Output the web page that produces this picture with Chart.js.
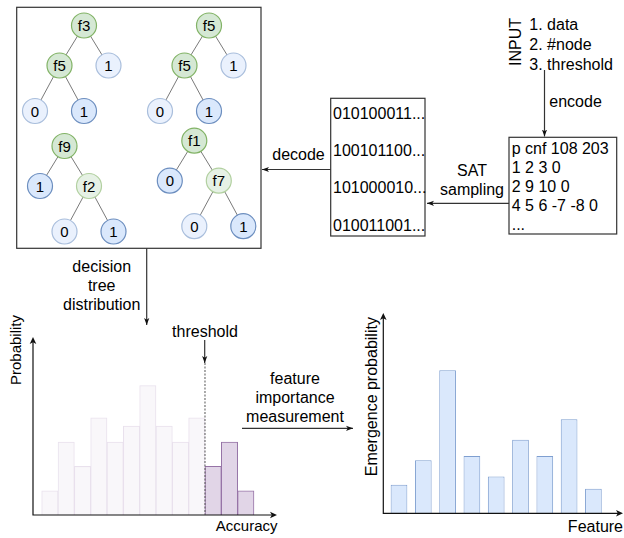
<!DOCTYPE html>
<html>
<head>
<meta charset="utf-8">
<title>Decision tree sampling pipeline</title>
<script src="https://cdn.jsdelivr.net/npm/chart.js@4.4.1/dist/chart.umd.min.js"></script>
<style>
    html, body { margin: 0; padding: 0; background: #fff; }
    #page { position: relative; width: 624px; height: 538px; overflow: hidden; }
    #diagram { position: absolute; left: 0; top: 0; }
    #acc-chart { position: absolute; left: 28px; top: 332px; }
    #feat-chart { position: absolute; left: 378px; top: 308px; }
</style>
</head>
<body>
<div id="page">
    <svg id="diagram" width="624" height="538"></svg>
    <canvas id="acc-chart" width="254" height="188"></canvas>
    <canvas id="feat-chart" width="246" height="210"></canvas>
</div>
<script>
// accuracy histogram of sampled trees, bins from threshold on are highlighted
const accuracyBins = [3, 9, 6, 12, 9, 11, 16, 11, 9, 12, 6, 9, 3];
const thresholdBin = 10;
// emergence probability per feature
const featureProb = [7, 13, 35, 14, 9, 18, 14, 23, 6];

// decision trees drawn from the sampler (tone: g / g2 = split, b / b2 = leaf)
const sampledTrees = [
    { label: 'f3', tone: 'g', kids: [
        { label: 'f5', tone: 'g', kids: [{ label: '0', tone: 'b2' }, { label: '1', tone: 'b' }] },
        { label: '1', tone: 'b2' }] },
    { label: 'f5', tone: 'g', kids: [
        { label: 'f5', tone: 'g', kids: [{ label: '0', tone: 'b2' }, { label: '1', tone: 'b' }] },
        { label: '1', tone: 'b2' }] },
    { label: 'f9', tone: 'g', kids: [
        { label: '1', tone: 'b' },
        { label: 'f2', tone: 'g2', kids: [{ label: '0', tone: 'b2' }, { label: '1', tone: 'b' }] }] },
    { label: 'f1', tone: 'g', kids: [
        { label: '0', tone: 'b' },
        { label: 'f7', tone: 'g2', kids: [{ label: '0', tone: 'b2' }, { label: '1', tone: 'b' }] }] }
];
const bitStrings = ['010100011...', '100101100...', '101000010...', '010011001...'];
const cnfLines = ['p cnf 108 203', '1 2 3 0', '2 9 10 0', '4 5 6 -7 -8 0', '...'];
const inputItems = ['1. data', '2. #node', '3. threshold'];

const FONT = '"Liberation Sans", Arial, Helvetica, sans-serif';
const NS = 'http://www.w3.org/2000/svg';
const svg = document.getElementById('diagram');

const TONES = {
    g:  { fill: '#d5e8d4', stroke: '#82b366' },
    g2: { fill: '#e6f1e5', stroke: '#b2d0a0' },
    b:  { fill: '#dae8fc', stroke: '#6c8ebf' },
    b2: { fill: '#eaf1fd', stroke: '#a9bedc' }
};

function el(tag, attrs, parent = svg) {
    const node = document.createElementNS(NS, tag);
    Object.keys(attrs).forEach(k => node.setAttribute(k, attrs[k]));
    parent.appendChild(node);
    return node;
}

function label(x, y, str, opts = {}) {
    const t = el('text', {
        x: 0, y: 0,
        transform: `translate(${x},${y})` + (opts.rotate ? ` rotate(${opts.rotate})` : ''),
        'text-anchor': opts.anchor || 'start',
        'dominant-baseline': 'central',
        'font-family': FONT,
        'font-size': opts.size || 16,
        fill: '#000'
    });
    t.textContent = str;
    return t;
}

function arrow(x1, y1, x2, y2) {
    el('line', { x1, y1, x2, y2, stroke: '#333', 'stroke-width': 1.2, 'marker-end': 'url(#tip)' });
}

function box(x, y, w, h) {
    el('rect', { x, y, width: w, height: h, fill: 'none', stroke: '#333', 'stroke-width': 1.2 });
}

function drawTree(node, x, y, depth, layer) {
    const r = 12.5;
    const dy = depth === 0 ? 40 : 45.5;
    (node.kids || []).forEach((kid, i) => {
        const kx = x + (i === 0 ? -24.5 : 24.5);
        el('line', { x1: x, y1: y, x2: kx, y2: y + dy, stroke: '#7a7a7a', 'stroke-width': 1 }, layer.edges);
        drawTree(kid, kx, y + dy, depth + 1, layer);
    });
    const tone = TONES[node.tone];
    el('circle', { cx: x, cy: y, r, fill: tone.fill, stroke: tone.stroke, 'stroke-width': 1.2 }, layer.nodes);
    const t = el('text', {
        x, y, 'text-anchor': 'middle', 'dominant-baseline': 'central',
        'font-family': FONT, 'font-size': 15, fill: '#000'
    }, layer.nodes);
    t.textContent = node.label;
}

function buildDiagram() {
    const defs = el('defs', {});
    const marker = el('marker', {
        id: 'tip', viewBox: '0 0 10 10', refX: 10, refY: 5,
        markerWidth: 7, markerHeight: 7, markerUnits: 'userSpaceOnUse', orient: 'auto'
    }, defs);
    el('path', { d: 'M0,1.3 L10,5 L0,8.7 L2.6,5 Z', fill: '#111' }, marker);

    // tree panel
    box(16.7, 7.3, 244.3, 241);
    const layer = { edges: el('g', {}), nodes: el('g', {}) };
    const roots = [[84, 25.5], [209, 25.5], [64.5, 146], [194.3, 140.7]];
    sampledTrees.forEach((tree, i) => drawTree(tree, roots[i][0], roots[i][1], 0, layer));

    // input + encoding
    label(515, 42, 'INPUT', { rotate: -90, anchor: 'middle' });
    inputItems.forEach((s, i) => label(529.3, 24 + i * 20.2, s));
    arrow(544.5, 70, 544.5, 136.5);
    label(549.3, 101.7, 'encode');

    box(509, 137.3, 107.7, 96.7);
    cnfLines.forEach((s, i) => label(511.7, 148.3 + i * 19, s));

    // sampling
    arrow(509, 203.3, 427, 203.3);
    label(472, 170, 'SAT', { anchor: 'middle' });
    label(472, 189, 'sampling', { anchor: 'middle' });

    box(330.7, 98.3, 94.3, 137.7);
    bitStrings.forEach((s, i) => label(333, 113.3 + i * 37.3, s));

    arrow(330.7, 169.5, 262, 169.5);
    label(298.5, 154, 'decode', { anchor: 'middle' });

    // distribution over trees
    arrow(146.7, 248.3, 146.7, 325);
    ['decision', 'tree', 'distribution'].forEach((s, i) => label(101.7, 266 + i * 19, s, { anchor: 'middle' }));
    label(205, 331, 'threshold', { anchor: 'middle' });
    arrow(204.7, 340, 204.7, 363);
    label(15, 350, 'Probability', { rotate: -90, anchor: 'middle', size: 15 });
    label(246.7, 525, 'Accuracy', { anchor: 'middle', size: 15 });

    // feature importance
    ['feature', 'importance', 'measurement'].forEach((s, i) => label(295, 378 + i * 19, s, { anchor: 'middle' }));
    arrow(242, 428.3, 353, 428.3);
    label(371.7, 396.7, 'Emergence probability', { rotate: -90, anchor: 'middle' });
    label(623, 526.7, 'Feature', { anchor: 'end' });
}

function drawHead(ctx, x, y, angle) {
    ctx.save();
    ctx.translate(x, y);
    ctx.rotate(angle);
    ctx.beginPath();
    ctx.moveTo(0, 0);
    ctx.lineTo(-7, -3.3);
    ctx.lineTo(-5.2, 0);
    ctx.lineTo(-7, 3.3);
    ctx.closePath();
    ctx.fill();
    ctx.restore();
}

// x/y axis lines with arrow tips, plus the optional dashed threshold marker
const axisArrows = {
    id: 'axisArrows',
    afterDatasetsDraw(chart, args, opts) {
        const { ctx, chartArea: a } = chart;
        ctx.save();
        ctx.strokeStyle = '#111';
        ctx.fillStyle = '#111';
        ctx.lineWidth = 1.2;
        ctx.beginPath();
        ctx.moveTo(a.left, a.top + 3);
        ctx.lineTo(a.left, a.bottom);
        ctx.lineTo(a.right - 3, a.bottom);
        ctx.stroke();
        drawHead(ctx, a.left, a.top, -Math.PI / 2);
        drawHead(ctx, a.right, a.bottom, 0);

        if (opts.threshold !== undefined) {
            const tx = chart.scales.x.getPixelForValue(opts.threshold);
            ctx.strokeStyle = '#555';
            ctx.lineWidth = 1;
            ctx.setLineDash([2, 1.5]);
            ctx.beginPath();
            ctx.moveTo(tx, a.top + 26);
            ctx.lineTo(tx, a.bottom);
            ctx.stroke();
        }
        ctx.restore();
    }
};

function barChart(id, values, colors, opts) {
    return new Chart(document.getElementById(id), {
        type: 'bar',
        data: {
            datasets: [{
                data: values.map((v, i) => ({ x: i, y: v })),
                backgroundColor: colors.fill,
                borderColor: colors.stroke,
                borderWidth: 1,
                barPercentage: opts.barPct,
                categoryPercentage: 1
            }]
        },
        options: {
            responsive: false,
            animation: false,
            events: [],
            layout: { padding: opts.padding },
            plugins: {
                legend: { display: false },
                tooltip: { enabled: false },
                axisArrows: { threshold: opts.threshold }
            },
            scales: {
                x: { type: 'linear', min: opts.xRange[0], max: opts.xRange[1], offset: false, display: false },
                y: { min: 0, max: opts.yMax, display: false }
            }
        },
        plugins: [axisArrows]
    });
}

document.addEventListener('DOMContentLoaded', () => {
    buildDiagram();

    barChart('acc-chart', accuracyBins, {
        fill: accuracyBins.map((v, i) => i >= thresholdBin ? '#e1d5e7' : '#f9f7fa'),
        stroke: accuracyBins.map((v, i) => i >= thresholdBin ? '#9673a6' : '#e9e1ed')
    }, {
        barPct: 1,
        padding: { left: 5, top: 5, right: 5, bottom: 5 },
        xRange: [-1.033, 13.91],
        yMax: 22,
        threshold: thresholdBin - 0.5
    });

    barChart('feat-chart', featureProb, { fill: '#dae8fc', stroke: '#7f9fd0' }, {
        barPct: 0.687,
        padding: { left: 5.3, top: 5, right: 1, bottom: 4.7 },
        xRange: [-0.646, 9.218],
        yMax: 49
    });
});
</script>
</body>
</html>
